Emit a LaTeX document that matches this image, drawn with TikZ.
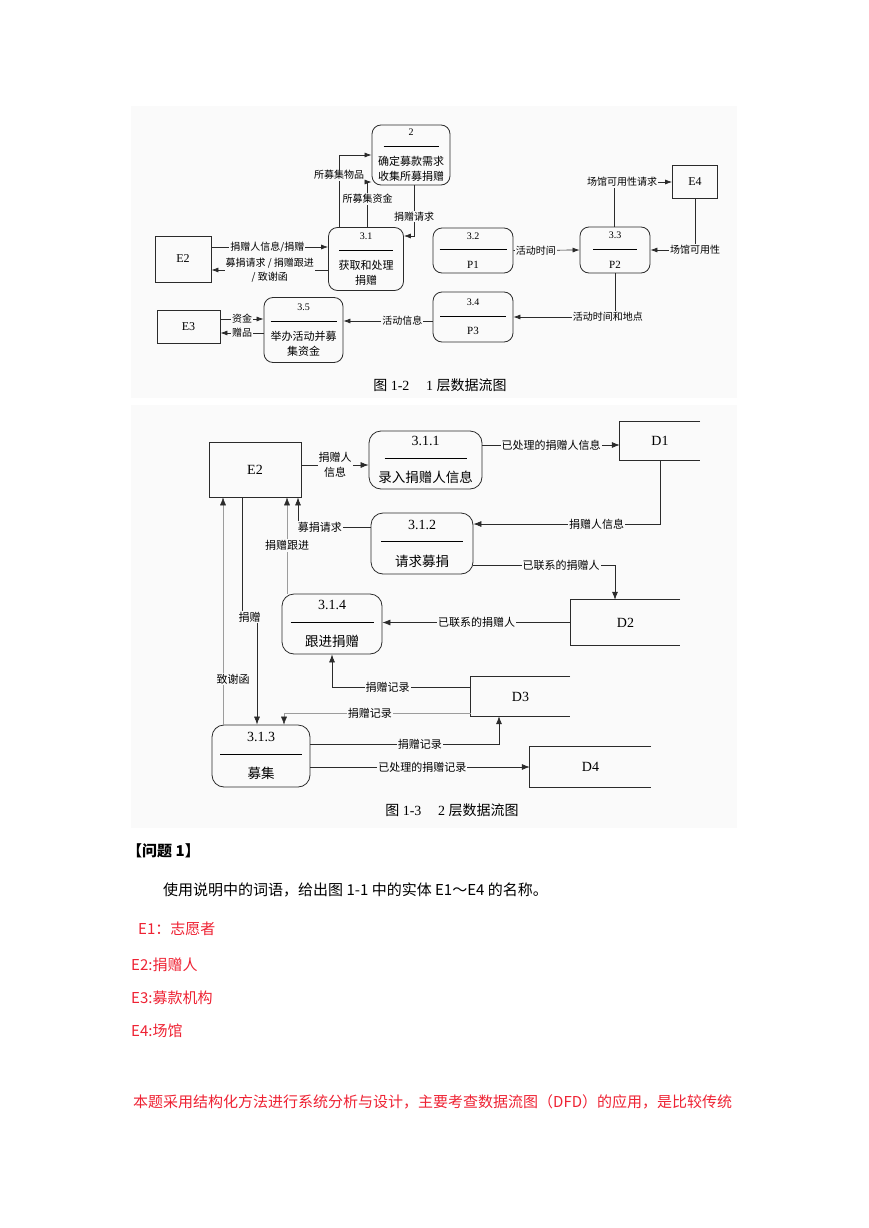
\documentclass[tikz,border=0pt]{standalone}
\usepackage{fontspec}
\setmainfont{Liberation Serif}
\newfontfamily\cjk{Noto Sans CJK SC}
\usetikzlibrary{arrows.meta,calc}
\definecolor{PanelBg}{HTML}{FAFAFA}
\definecolor{InkDark}{HTML}{2B2B2B}
\definecolor{InkGrey}{HTML}{9C9C9C}
\definecolor{AnsRed}{HTML}{EE2233}
\newcommand{\procA}[3]{{\rmfamily\fontsize{10}{15}\selectfont #1}\\[-4.3pt]\rule{#2}{0.6pt}\\[3.7pt]#3}
\newcommand{\procB}[3]{{\rmfamily\fontsize{14}{18}\selectfont #1}\\[-5.1pt]\rule{#2}{0.6pt}\\[6.1pt]#3}

\begin{document}
\begin{tikzpicture}[
  x=1pt,y=-1pt,
  panel/.style={fill=PanelBg,draw=none},
  ent/.style={draw=InkDark,line width=0.8pt,inner sep=0pt,font=\fontsize{12}{14}\selectfont},
  proc/.style={draw=InkDark,line width=0.8pt,rounded corners=9pt,align=center,inner sep=0pt},
  procsmall/.style={proc,font=\cjk\fontsize{11}{15}\selectfont},
  procbig/.style={proc,rounded corners=12pt,font=\cjk\fontsize{13.5}{18}\selectfont},
  store/.style={inner sep=0pt,font=\fontsize{14}{16}\selectfont},
  flow/.style={draw=InkDark,line width=0.7pt,-{Latex[length=7pt,width=5pt]}},
  flowbig/.style={draw=InkDark,line width=0.7pt,-{Latex[length=8pt,width=6pt]}},
  faint/.style={draw=InkGrey,-{Latex[length=8pt,width=6pt,color=InkDark]}},
  labsmall/.style={fill=PanelBg,inner sep=1pt,align=center,font=\cjk\fontsize{10}{14}\selectfont},
  labbig/.style={labsmall,font=\cjk\fontsize{11}{15}\selectfont},
  caption/.style={font=\fontsize{14}{16}\selectfont},
  note/.style={anchor=west,inner sep=0pt,font=\cjk\fontsize{15}{18}\selectfont},
  ans/.style={note,text=AnsRed},
]
\useasboundingbox (0,0) rectangle (869,1228);
\fill[panel] (131,106) rectangle (737,398);
\fill[panel] (131,405) rectangle (737,828);

% level 1
\node[ent,minimum width=56pt,minimum height=46pt] (e2a) at (183,259) {E2};
\node[ent,minimum width=45pt,minimum height=33pt] (e4) at (695,182) {E4};
\node[ent,minimum width=63pt,minimum height=33pt] (e3) at (188.5,326.5) {E3};
\node[procsmall,minimum width=78pt,minimum height=60pt] (p2) at (411,155) {\procA{2}{55pt}{确定募款需求\\收集所募捐赠}};
\node[procsmall,minimum width=75pt,minimum height=63pt] (p31) at (366,259) {\procA{3.1}{54pt}{获取和处理\\捐赠}};
\node[procsmall,minimum width=80pt,minimum height=45pt] (p32) at (473,250.5) {\procA{3.2}{67pt}{\rmfamily P1}};
\node[procsmall,minimum width=70pt,minimum height=46pt] (p33) at (615,250) {\procA{3.3}{44pt}{\rmfamily P2}};
\node[procsmall,minimum width=80pt,minimum height=50pt] (p34) at (473,317) {\procA{3.4}{66pt}{\rmfamily P3}};
\node[procsmall,minimum width=79pt,minimum height=65pt] (p35) at (303.5,330) {\procA{3.5}{66pt}{举办活动并募\\集资金}};

\draw[flow] ([yshift=12pt]e2a.east) -- ([yshift=12pt]p31.west) node[labsmall,pos=0.48] {捐赠人信息/捐赠};
\draw[flow] ([yshift=-11pt]p31.west) -- ([yshift=-11pt]e2a.east) node[labsmall,pos=0.5] {募捐请求 / 捐赠跟进\\/ 致谢函};
\draw[flow] ([xshift=-27pt]p31.north) |- (p2.west) node[labsmall,pos=0.36] {所募集物品};
\draw[flow] ([xshift=1.5pt]p31.north) |- ([yshift=-27pt]p2.west) node[labsmall,pos=0.31] {所募集资金};
\draw[flow] ([xshift=3pt]p2.south) |- ([yshift=23pt]p31.east) node[labsmall,pos=0.31] {捐赠请求};
\draw[flow] (p32.east) -- (p33.west) node[labsmall,pos=0.34] {活动时间};
\draw[flow] ([xshift=-1pt]p33.north) |- (e4.west) node[labsmall,pos=0.57] {场馆可用性请求};
\draw[flow] (e4.south) |- (p33.east) node[labsmall,pos=0.5] {场馆可用性};
\draw[flow] (p33.south) |- (p34.east) node[labsmall,pos=0.535] {活动时间和地点};
\draw[flow] ([yshift=-4pt]p34.west) -- ([yshift=9pt]p35.east) node[labsmall,pos=0.34] {活动信息};
\draw[flow] ([yshift=7.5pt]e3.east) -- ([yshift=11pt]p35.west) node[labsmall,pos=0.5] {资金};
\draw[flow] ([yshift=-3pt]p35.west) -- ([yshift=-6.5pt]e3.east) node[labsmall,pos=0.5] {赠品};

\node[caption] (capa) at (440,385) {{\cjk 图} 1-2\hspace{1.2em}1 {\cjk 层数据流图}};

% level 2
\node[ent,minimum width=92pt,minimum height=55pt,font=\fontsize{14}{16}\selectfont] (e2b) at (255,469.5) {E2};
\node[procbig,minimum width=113pt,minimum height=58pt] (p311) at (425.5,460) {\procB{3.1.1}{82pt}{录入捐赠人信息}};
\node[procbig,minimum width=102pt,minimum height=61pt] (p312) at (422,543.5) {\procB{3.1.2}{82pt}{请求募捐}};
\node[procbig,minimum width=100pt,minimum height=60pt] (p314) at (332,624) {\procB{3.1.4}{83pt}{跟进捐赠}};
\node[procbig,minimum width=98pt,minimum height=62pt] (p313) at (261,756) {\procB{3.1.3}{82pt}{募集}};
\node[store,minimum width=80pt,minimum height=38pt] (d1) at (660,441) {D1};
\node[store,minimum width=109pt,minimum height=45pt] (d2) at (625.5,622.5) {D2};
\node[store,minimum width=99pt,minimum height=39pt] (d3) at (520.5,696.5) {D3};
\node[store,minimum width=121pt,minimum height=40pt] (d4) at (590.5,767) {D4};
\foreach \s in {d1,d2,d3,d4}
  \draw[InkDark,line width=0.8pt] (\s.north east) -- (\s.north west) -- (\s.south west) -- (\s.south east);

\draw[flowbig] ([yshift=4.5pt]e2b.east) -- ([yshift=-5pt]p311.west) node[labbig,pos=0.5] {捐赠人\\信息};
\draw[flowbig] ([yshift=15pt]p311.east) -- ([yshift=-4pt]d1.west) node[labbig,pos=0.5] {已处理的捐赠人信息};
\draw[flowbig] (d1.south) |- ([yshift=19.5pt]p312.east) node[labbig,pos=0.67] {捐赠人信息};
\draw[flowbig] ([yshift=16.5pt]p312.west) -| ([xshift=43pt]e2b.south) node[labbig,pos=0.35] {募捐请求};
\draw[flowbig] ([yshift=-21.5pt]p312.east) -| ([xshift=-10.5pt]d2.north) node[labbig,pos=0.31] {已联系的捐赠人};
\draw[flowbig] (d2.west) -- (p314.east |- d2.west) node[labbig,pos=0.5] {已联系的捐赠人};
\draw[faint] ([xshift=-45pt]p314.north) -- ([xshift=32pt]e2b.south) node[labbig,pos=0.5] {捐赠跟进};
\draw[flowbig] ([xshift=-13pt]e2b.south) -- ++(0,120) -- ++(15,0) node[labbig,midway] {捐赠} -- ([xshift=-4pt]p313.north);
\draw[faint] ([xshift=-38pt]p313.north) -- ([xshift=-32pt]e2b.south) node[labbig,pos=0.2,xshift=10pt] {致谢函};
\draw[flowbig] ([yshift=9.5pt]d3.west) -| (p314.south) node[labbig,pos=0.3] {捐赠记录};
\draw[faint] ([yshift=-16.5pt]d3.west) -| ([xshift=23pt]p313.north) node[labbig,pos=0.27] {捐赠记录};
\draw[flowbig] ([yshift=12pt]p313.east) -| ([xshift=-21.5pt]d3.south) node[labbig,pos=0.29] {捐赠记录};
\draw[flowbig] ([yshift=-11pt]p313.east) -- (d4.west) node[labbig,pos=0.51] {已处理的捐赠记录};

\node[caption] (capb) at (452,810) {{\cjk 图} 1-3\hspace{1.2em}2 {\cjk 层数据流图}};

% question and answers
\node[note,font=\cjk\bfseries\fontsize{15}{18}\selectfont] (q1) at (127,851) {【问题 1】};
\node[note] (q1txt) at (163,890) {使用说明中的词语，给出图 1-1 中的实体 E1～E4 的名称。};
\node[ans] (a1) at (138,929) {E1：志愿者};
\node[ans] (a2) at (131,965) {E2:捐赠人};
\node[ans] (a3) at (131,998) {E3:募款机构};
\node[ans] (a4) at (131,1031) {E4:场馆};
\node[ans] (a5) at (133,1102) {本题采用结构化方法进行系统分析与设计，主要考查数据流图（DFD）的应用，是比较传统};
\end{tikzpicture}
\end{document}
